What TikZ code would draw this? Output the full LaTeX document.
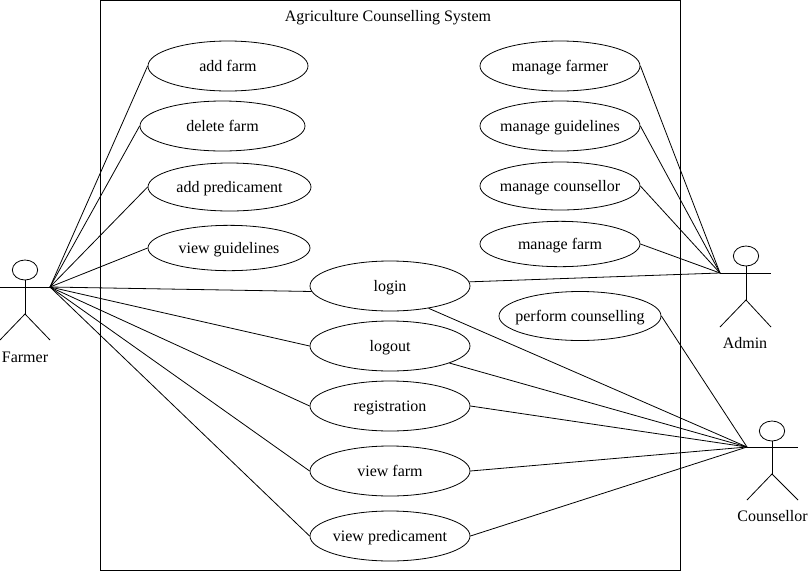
\documentclass[tikz,border=0pt]{standalone}
\usepackage{fontspec}
\setmainfont{Liberation Serif}
\usetikzlibrary{shapes.geometric, positioning}
\tikzset{
  usecase/.style={ellipse, draw=black, fill=white, minimum width=120pt, minimum height=37.5pt,
    inner xsep=-25pt, inner ysep=-3pt, text height=10pt, text depth=2pt,
    font=\fontsize{12}{14}\selectfont, line width=0.6pt},
  actorhead/.style={ellipse, draw=black, minimum width=19pt, minimum height=15pt,
    inner sep=0pt, line width=0.6pt},
  caption/.style={font=\fontsize{12}{14}\selectfont, inner sep=0pt, text height=9pt, text depth=2pt},
  line/.style={line width=0.6pt, color=black}
}

\begin{document}
\begin{tikzpicture}[x=0.75pt, y=-0.75pt]
  \useasboundingbox (0,0) rectangle (808,572);
  \draw[line] (100,0) rectangle (680,570);
  \node[caption] (title) at (388,17) {Agriculture Counselling System};

  % use cases on the farmer side
  \node[usecase] (addfarm) at (228,66) {add farm};
  \node[usecase, minimum width=123.75pt] (deletefarm) at (222.5,126) {delete farm};
  \node[usecase, minimum width=122.25pt, minimum height=36pt] (addpred) at (229.5,187) {add predicament};
  \node[usecase, minimum width=121.5pt, minimum height=34pt] (viewguide) at (229,248) {view guidelines};
  \node[usecase] (login) at (390,286) {login};
  \node[usecase] (logout) at (390,346) {logout};
  \node[usecase] (registration) at (390,406) {registration};
  \node[usecase] (viewfarm) at (390,471) {view farm};
  \node[usecase] (viewpred) at (390,536) {view predicament};

  % use cases on the admin side
  \node[usecase] (mfarmer) at (560,66) {manage farmer};
  \node[usecase] (mguide) at (560,126) {manage guidelines};
  \node[usecase, minimum height=36pt] (mcounsel) at (560,186) {manage counsellor};
  \node[usecase, minimum height=34pt] (mfarm) at (560,244) {manage farm};
  \node[usecase, minimum width=121.5pt, minimum height=36.75pt] (perform) at (580,316) {perform counselling};

  % actors
  \node[actorhead] (farmerhead) at (25,270) {};
  \coordinate (farmerhand) at (50,287);
  \coordinate (farmerarm) at (0,287);
  \coordinate (farmerhip) at (25,314);
  \coordinate (farmerl) at (0,340);
  \coordinate (farmerr) at (50,340);
  \draw[line] (farmerhead) -- (farmerhip);
  \draw[line] (farmerarm) -- (farmerhand);
  \draw[line] (farmerl) -- (farmerhip) -- (farmerr);
  \node[caption] (farmer) at (25,358) {Farmer};

  \node[actorhead] (adminhead) at (746,256) {};
  \coordinate (adminhand) at (720,273);
  \coordinate (adminarm) at (771,273);
  \coordinate (adminhip) at (746,300);
  \coordinate (adminl) at (720,327);
  \coordinate (adminr) at (771,327);
  \draw[line] (adminhead) -- (adminhip);
  \draw[line] (adminhand) -- (adminarm);
  \draw[line] (adminl) -- (adminhip) -- (adminr);
  \node[caption] (admin) at (745,344) {Admin};

  \node[actorhead] (counshead) at (772,431) {};
  \coordinate (counshand) at (747,447);
  \coordinate (counsarm) at (798,447);
  \coordinate (counship) at (772,474);
  \coordinate (counsl) at (747,500);
  \coordinate (counsr) at (798,500);
  \draw[line] (counshead) -- (counship);
  \draw[line] (counshand) -- (counsarm);
  \draw[line] (counsl) -- (counship) -- (counsr);
  \node[caption] (counsellor) at (772.5,517) {Counsellor};

  % connectors
  \draw[line] (farmerhand) -- (addfarm.west);
  \draw[line] (farmerhand) -- (deletefarm.west);
  \draw[line] (farmerhand) -- (addpred.west);
  \draw[line] (farmerhand) -- (viewguide.west);
  \draw[line] (farmerhand) -- (login.184);
  \draw[line] (farmerhand) -- (logout.west);
  \draw[line] (farmerhand) -- (registration.west);
  \draw[line] (farmerhand) -- (viewfarm.west);
  \draw[line] (farmerhand) -- (viewpred.west);

  \draw[line] (mfarmer.east) -- (adminhand);
  \draw[line] (mguide.east) -- (adminhand);
  \draw[line] (mcounsel.east) -- (adminhand);
  \draw[line] (mfarm.east) -- (adminhand);
  \draw[line] (login.3) -- (adminhand);

  \draw[line] (login.-30) -- (counshand);
  \draw[line] (logout.-16) -- (counshand);
  \draw[line] (registration.east) -- (counshand);
  \draw[line] (viewfarm.east) -- (counshand);
  \draw[line] (viewpred.east) -- (counshand);
  \draw[line] (perform.east) -- (counshand);
\end{tikzpicture}
\end{document}
